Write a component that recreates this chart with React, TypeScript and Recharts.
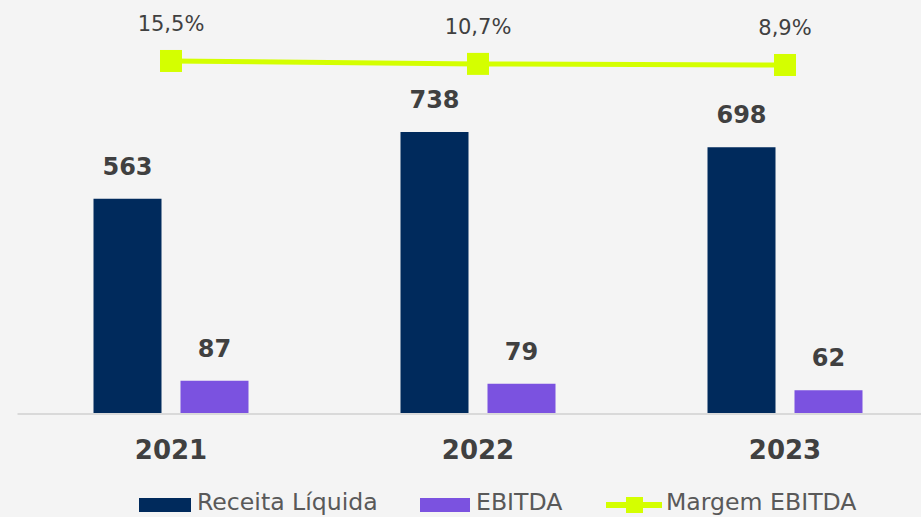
import React from 'react';
import { ComposedChart, Bar, Line, XAxis, YAxis, Legend, LabelList } from 'recharts';

const years = ['2021', '2022', '2023'];
const receita = [563, 738, 698];
const ebitda = [87, 79, 62];
const margem = [15.5, 10.7, 8.9];
const margemLabels = ['15,5%', '10,7%', '8,9%'];

const data = years.map((y, i) => ({
  year: y,
  receita: receita[i],
  ebitda: ebitda[i],
  margem: margem[i],
  margemLabel: margemLabels[i],
}));

const NAVY = '#002a5c';
const PURPLE = '#7b52e0';
const LIME = '#d4ff00';
const TEXT = '#404040';
const FONT = '"DejaVu Sans", Verdana, sans-serif';

const Tick = (props: any) => {
  const { x, y, payload } = props;
  return (
    <text x={x} y={y + 37} textAnchor="middle" fontFamily={FONT} fontWeight="bold" fontSize={26} fill={TEXT}>
      {payload.value}
    </text>
  );
};

const LegendContent = () => (
  <div style={{ position: 'relative', height: 36, fontFamily: FONT, fontSize: 23.6, color: '#595959' }}>
    <div style={{ position: 'absolute', left: 139, top: 17, width: 52, height: 14, background: NAVY }} />
    <div style={{ position: 'absolute', left: 197, top: 8, lineHeight: '26px', whiteSpace: 'nowrap' }}>Receita Líquida</div>
    <div style={{ position: 'absolute', left: 420, top: 17, width: 50, height: 14, background: PURPLE }} />
    <div style={{ position: 'absolute', left: 476, top: 8, lineHeight: '26px', whiteSpace: 'nowrap' }}>EBITDA</div>
    <div style={{ position: 'absolute', left: 606, top: 21, width: 56, height: 6, background: LIME }} />
    <div style={{ position: 'absolute', left: 626, top: 16, width: 17, height: 16, background: LIME }} />
    <div style={{ position: 'absolute', left: 666, top: 8, lineHeight: '26px', whiteSpace: 'nowrap' }}>Margem EBITDA</div>
  </div>
);

export default function App() {
  return (
    <div style={{ position: 'fixed', left: 0, top: 0, width: 921, height: 517, overflow: 'hidden', background: '#f4f4f4' }}>
      <ComposedChart
        width={960}
        height={517}
        data={data}
        margin={{ top: 20, right: 21.5, left: 17.5, bottom: 0 }}
        barSize={68}
        barGap={19}
      >
        <XAxis
          dataKey="year"
          axisLine={{ stroke: '#d9d9d9', strokeWidth: 2 }}
          tickLine={false}
          tick={<Tick />}
          height={67}
          interval={0}
        />
        <YAxis yAxisId="v" hide domain={[0, 1031]} />
        <YAxis yAxisId="p" hide domain={[-566, 83]} />
        <Legend
          verticalAlign="bottom"
          height={36}
          content={<LegendContent />}
          wrapperStyle={{ left: 0, width: 921 }}
        />
        <Bar yAxisId="v" dataKey="receita" fill={NAVY} isAnimationActive={false}>
          <LabelList dataKey="receita" position="top" offset={24} fill={TEXT} fontFamily={FONT} fontWeight="bold" fontSize={24} />
        </Bar>
        <Bar yAxisId="v" dataKey="ebitda" fill={PURPLE} isAnimationActive={false}>
          <LabelList dataKey="ebitda" position="top" offset={24} fill={TEXT} fontFamily={FONT} fontWeight="bold" fontSize={24} />
        </Bar>
        <Line
          yAxisId="p"
          dataKey="margem"
          stroke={LIME}
          strokeWidth={5}
          isAnimationActive={false}
          dot={(p: any) => (
            <rect key={p.index} x={p.cx - 11} y={p.cy - 11} width={22} height={22} fill={LIME} />
          )}
          activeDot={false}
        >
          <LabelList dataKey="margemLabel" position="top" offset={30} fill={TEXT} fontFamily={FONT} fontSize={21} />
        </Line>
      </ComposedChart>
    </div>
  );
}
